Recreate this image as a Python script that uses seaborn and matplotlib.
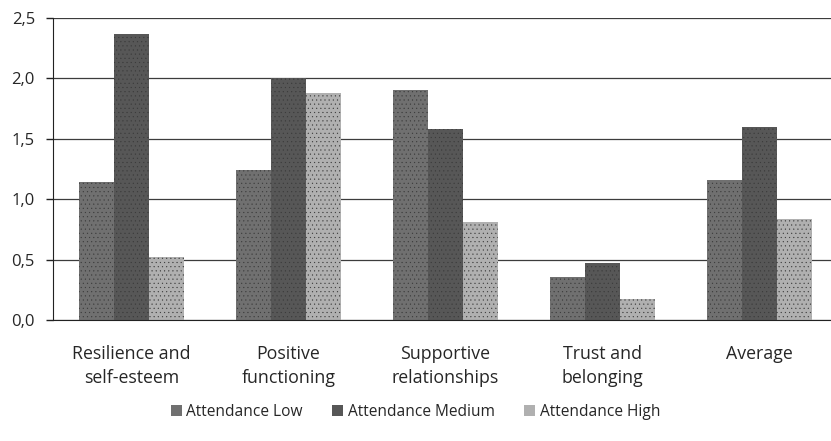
import matplotlib
matplotlib.use("Agg")
import matplotlib.pyplot as plt
import seaborn as sns
import pandas as pd
import numpy as np

categories = ["Resilience and\nself-esteem", "Positive\nfunctioning", "Supportive\nrelationships", "Trust and\nbelonging", "Average"]
series = ["Attendance Low", "Attendance Medium", "Attendance High"]
low = [1.14, 1.24, 1.90, 0.36, 1.16]
medium = [2.37, 2.00, 1.58, 0.47, 1.60]
high = [0.52, 1.88, 0.81, 0.17, 0.84]
yticks = [0.0, 0.5, 1.0, 1.5, 2.0, 2.5]
ytick_labels = ["0,0", "0,5", "1,0", "1,5", "2,0", "2,5"]

rows = []
for s, vals in zip(series, [low, medium, high]):
    for c, v in zip(categories, vals):
        rows.append({"category": c, "series": s, "value": v})
df = pd.DataFrame(rows)

sns.set_style("white")
plt.rcParams["font.family"] = ["Open Sans", "DejaVu Sans"]
plt.rcParams["hatch.linewidth"] = 0.3

fig = plt.figure(figsize=(8.31, 4.41), dpi=100)
ax = fig.add_axes([53/831, 1 - 320/441, (838-53)/831, (320-18)/441])

palette = {"Attendance Low": "#707070", "Attendance Medium": "#575757", "Attendance High": "#b0b0b0"}
sns.barplot(data=df, x="category", y="value", hue="series", palette=palette,
            width=0.67, ax=ax, saturation=1, legend=True, edgecolor="none")

for bar_container in ax.containers:
    for b in bar_container:
        b.set_hatch("....")
        b.set_edgecolor("#3a3a3a")
        b.set_linewidth(0)

ax.set_ylim(0, 2.5)
ax.set_xlim(-0.5, 4.5)
ax.set_yticks(yticks)
ax.set_yticklabels(ytick_labels, fontsize=12)
ax.yaxis.grid(True, color="#3c3c3c", linewidth=0.9)
ax.set_axisbelow(True)
ax.set_xlabel("")
ax.set_ylabel("")
ax.set_xticks(range(len(categories)))
ax.set_xticklabels(categories, fontsize=12.8, linespacing=1.45)
ax.tick_params(axis="x", which="major", length=0, pad=18)
ax.set_xticks(np.arange(-0.5, 4.6, 1.0), minor=True)
ax.tick_params(axis="x", which="minor", length=5, width=1, direction="out", color="#222222")
ax.tick_params(axis="y", length=5, width=1, direction="out", color="#222222", left=True, pad=8)

for side in ["top", "right"]:
    ax.spines[side].set_visible(False)
ax.spines["left"].set_color("#222222")
ax.spines["bottom"].set_color("#222222")

handles, labels = ax.get_legend_handles_labels()
ax.legend_.remove()
fig.legend(handles, labels, loc="center", bbox_to_anchor=(0.5, 1 - 412/441), ncol=3,
           frameon=False, fontsize=11.2, handlelength=0.7, handleheight=0.7,
           handletextpad=0.3, columnspacing=1.9)

fig.savefig("out.png", dpi=100)
